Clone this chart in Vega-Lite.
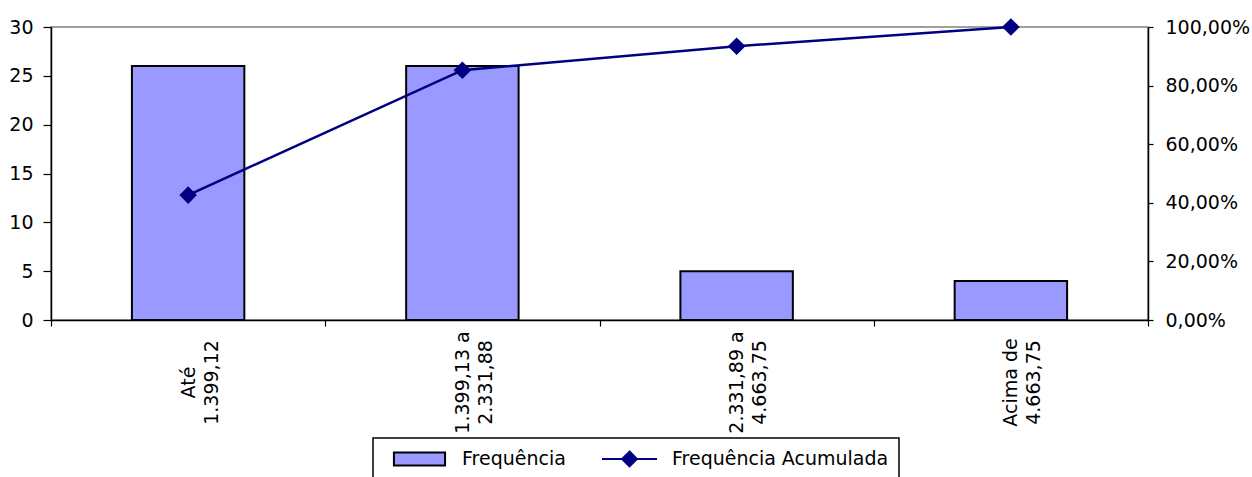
{
  "$schema": "https://vega.github.io/schema/vega-lite/v6.json",
  "width": 1097,
  "height": 293,
  "autosize": {"type": "none"},
  "padding": {"left": 51, "top": 27, "right": 104, "bottom": 157},
  "background": "white",
  "config": {
    "view": {"stroke": "#808080", "strokeWidth": 1.5},
    "font": "DejaVu Sans",
    "axis": {
      "labelFont": "DejaVu Sans",
      "labelFontSize": 19,
      "labelColor": "black",
      "domainColor": "black",
      "domainWidth": 1.5,
      "tickColor": "black",
      "tickWidth": 1.2,
      "grid": false,
      "title": null
    },
    "legend": {
      "labelFont": "DejaVu Sans",
      "labelFontSize": 19,
      "labelColor": "black",
      "labelLimit": 400
    }
  },
  "data": {
    "values": [
      {"faixa": "Até 1.399,12", "freq": 26, "acum": 0.4262},
      {"faixa": "1.399,13 a 2.331,88", "freq": 26, "acum": 0.8525},
      {"faixa": "2.331,89 a 4.663,75", "freq": 5, "acum": 0.9344},
      {"faixa": "Acima de 4.663,75", "freq": 4, "acum": 1.0}
    ]
  },
  "encoding": {
    "x": {
      "field": "faixa",
      "type": "nominal",
      "sort": null,
      "scale": {"paddingInner": 0, "paddingOuter": 0},
      "axis": {
        "title": null,
        "tickBand": "extent",
        "tickSize": 6,
        "labelAngle": 270,
        "labelAlign": "center",
        "labelBaseline": "middle",
        "labelPadding": 56,
        "labelLineHeight": 23,
        "labelLimit": 0,
        "labelExpr": "[slice(datum.label, 0, lastindexof(datum.label, ' ')), slice(datum.label, lastindexof(datum.label, ' ') + 1)]"
      }
    }
  },
  "layer": [
    {
      "mark": {"type": "bar", "width": {"band": 0.41}, "fill": "#9999FF", "strokeWidth": 2},
      "encoding": {
        "y": {
          "field": "freq",
          "type": "quantitative",
          "scale": {"domain": [0, 30], "nice": false},
          "axis": {"orient": "left", "values": [0, 5, 10, 15, 20, 25, 30], "tickSize": 8, "labelPadding": 10, "title": null}
        },
        "stroke": {
          "datum": "Frequência",
          "scale": {"domain": ["Frequência", "Frequência Acumulada"], "range": ["#000000", "#000080"]},
          "legend": {
            "title": null,
            "orient": "none",
            "legendX": 322,
            "legendY": 411,
            "direction": "horizontal",
            "symbolSize": 3025,
            "clipHeight": 22,
            "padding": 10,
            "symbolOffset": 8,
            "labelOffset": 14,
            "columnPadding": 27,
            "labelLimit": 400,
            "strokeColor": "black",
            "fillColor": "white",
            "encode": {
              "symbols": {
                "update": {
                  "shape": {"signal": "datum.value === 'Frequência' ? 'M-0.93,-0.24H0.93V0.24H-0.93Z' : 'M-1,0H1M0,-0.27L0.27,0L0,0.27L-0.27,0Z'"},
                  "fill": {"signal": "datum.value === 'Frequência' ? '#9999FF' : '#000080'"},
                  "strokeWidth": {"value": 2},
                  "strokeOpacity": {"value": 1},
                  "fillOpacity": {"value": 1},
                  "opacity": {"value": 1}
                }
              },
              "legend": {"update": {"strokeWidth": {"value": 1.5}}}
            }
          }
        }
      }
    },
    {
      "mark": {"type": "line", "strokeWidth": 2.5, "point": {"shape": "diamond", "filled": true, "fill": "#000080", "size": 220}},
      "encoding": {
        "y": {
          "field": "acum",
          "type": "quantitative",
          "scale": {"domain": [0, 1], "nice": false},
          "axis": {
            "orient": "right",
            "values": [0, 0.2, 0.4, 0.6, 0.8, 1],
            "tickSize": 5,
            "labelPadding": 12,
            "title": null,
            "labelExpr": "replace(format(datum.value, '.2%'), '.', ',')"
          }
        },
        "stroke": {
          "datum": "Frequência Acumulada",
          "legend": {
            "title": null,
            "orient": "none",
            "legendX": 322,
            "legendY": 411,
            "direction": "horizontal",
            "symbolSize": 3025,
            "clipHeight": 22,
            "padding": 10,
            "symbolOffset": 8,
            "labelOffset": 14,
            "columnPadding": 27,
            "labelLimit": 400,
            "strokeColor": "black",
            "fillColor": "white",
            "encode": {
              "symbols": {
                "update": {
                  "shape": {"signal": "datum.value === 'Frequência' ? 'M-0.93,-0.24H0.93V0.24H-0.93Z' : 'M-1,0H1M0,-0.27L0.27,0L0,0.27L-0.27,0Z'"},
                  "fill": {"signal": "datum.value === 'Frequência' ? '#9999FF' : '#000080'"},
                  "strokeWidth": {"value": 2},
                  "strokeOpacity": {"value": 1},
                  "fillOpacity": {"value": 1},
                  "opacity": {"value": 1}
                }
              },
              "legend": {"update": {"strokeWidth": {"value": 1.5}}}
            }
          }
        }
      }
    }
  ],
  "resolve": {"scale": {"y": "independent"}}
}
